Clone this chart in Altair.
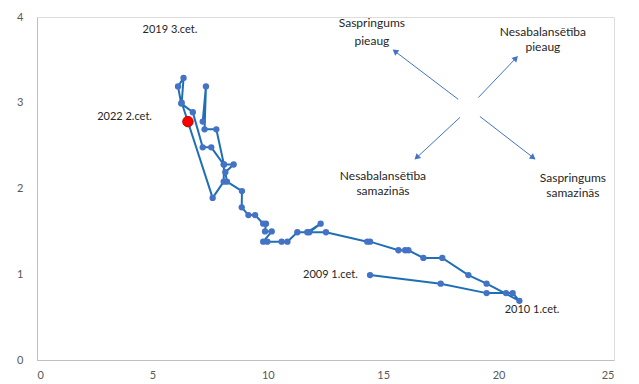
import altair as alt
import pandas as pd

# Unemployment rate (x) and vacancy rate (y), quarterly path
unemp = [14.43, 17.49, 19.48, 20.32, 20.61, 20.90, 19.48, 18.69, 17.56, 16.74,
         16.09, 15.95, 15.66, 14.43, 14.31, 12.52, 11.80, 12.29, 11.71, 11.28,
         10.85, 10.60, 9.98, 9.80, 10.17, 9.88, 9.92, 9.80, 9.45, 9.16,
         8.87, 8.88, 8.23, 8.16, 8.52, 8.09, 7.55, 7.18, 6.75, 6.25,
         6.11, 6.35, 6.27, 7.61, 8.09, 8.10, 7.77, 7.26, 7.32, 7.18]
vacancy = [0.99, 0.89, 0.78, 0.78, 0.78, 0.69, 0.89, 0.99, 1.19, 1.19,
           1.28, 1.28, 1.28, 1.38, 1.38, 1.49, 1.49, 1.59, 1.49, 1.49,
           1.38, 1.38, 1.38, 1.38, 1.50, 1.50, 1.59, 1.59, 1.69, 1.69,
           1.78, 1.97, 2.08, 2.19, 2.28, 2.28, 2.48, 2.48, 2.89, 2.99,
           3.19, 3.29, 3.00, 1.89, 2.08, 2.28, 2.69, 2.69, 3.19, 2.78]

last_u = [6.54]
last_v = [2.78]

# Point labels (centered)
labc_text = ["2019 3.cet.", "2010 1.cet."]
labc_x = [5.76, 21.45]
labc_y = [3.85, 0.58]
# Point labels (right-aligned)
labr_text = ["2022 2.cet.", "2009 1.cet."]
labr_x = [4.98, 13.9]
labr_y = [2.83, 0.99]

# Quadrant annotations
q_text = ["Saspringums", "pieaug", "Nesabalansētība", "pieaug",
          "Nesabalansētība", "samazinās", "Saspringums", "samazinās"]
q_x = [14.51, 14.51, 21.92, 21.92, 14.99, 14.99, 23.22, 23.22]
q_y = [3.93, 3.72, 3.825, 3.65, 2.146, 1.97, 2.12, 1.95]

# Direction arrows
arr_x1 = [18.25, 19.12, 18.33, 19.19]
arr_y1 = [3.04, 3.06, 2.83, 2.84]
arr_x2 = [15.51, 20.75, 16.45, 21.50]
arr_y2 = [3.60, 3.52, 2.36, 2.36]
arr_ang = [307, 44, 227, 127]

df = pd.DataFrame({"i": list(range(len(unemp))), "u": unemp, "v": vacancy})
df_last = pd.DataFrame({"u": last_u, "v": last_v})
df_labc = pd.DataFrame({"t": labc_text, "u": labc_x, "v": labc_y})
df_labr = pd.DataFrame({"t": labr_text, "u": labr_x, "v": labr_y})
df_q = pd.DataFrame({"t": q_text, "u": q_x, "v": q_y})
df_arr = pd.DataFrame({"u": arr_x1, "v": arr_y1, "u2": arr_x2, "v2": arr_y2, "ang": arr_ang})

FONT = "Lato"
xs = alt.Scale(domain=[0, 25], nice=False)
ys = alt.Scale(domain=[0, 4], nice=False)
xax = alt.Axis(values=[0, 5, 10, 15, 20, 25], grid=False, ticks=False, domainColor="#bfbfbf",
               labelColor="#595959", labelFontSize=11, labelPadding=9, labelFont=FONT, title=None,
               format="d")
yax = alt.Axis(values=[0, 1, 2, 3, 4], grid=False, ticks=False, domainColor="#bfbfbf",
               labelColor="#595959", labelFontSize=11, labelPadding=14, labelFont=FONT, title=None,
               format="d")

X = alt.X("u:Q", scale=xs, axis=xax)
Y = alt.Y("v:Q", scale=ys, axis=yax)

line = alt.Chart(df).mark_line(color="#1f6fb4", strokeWidth=2).encode(x=X, y=Y, order="i:Q")
pts = alt.Chart(df).mark_circle(size=40, color="#4472c4", opacity=1).encode(x=X, y=Y)
red = alt.Chart(df_last).mark_circle(size=110, color="#ff0000", opacity=1,
                                     stroke="#c00000", strokeWidth=1).encode(x=X, y=Y)

labc = alt.Chart(df_labc).mark_text(font=FONT, fontSize=11, color="#262626", align="center").encode(
    x=X, y=Y, text="t:N")
labr = alt.Chart(df_labr).mark_text(font=FONT, fontSize=11, color="#262626", align="right").encode(
    x=X, y=Y, text="t:N")
quad = alt.Chart(df_q).mark_text(font=FONT, fontSize=12, color="#262626").encode(x=X, y=Y, text="t:N")

arrows = alt.Chart(df_arr).mark_rule(color="#4472c4", strokeWidth=1).encode(
    x=X, y=Y, x2="u2:Q", y2="v2:Q")
heads = alt.Chart(df_arr).mark_point(shape="triangle-up", filled=True, size=45,
                                     color="#4472c4", opacity=1).encode(
    x=alt.X("u2:Q", scale=xs), y=alt.Y("v2:Q", scale=ys), angle=alt.Angle("ang:Q", scale=None))

chart = alt.layer(arrows, heads, line, pts, red, labc, labr, quad).properties(
    width=577, height=343,
    autosize=alt.AutoSizeParams(type="none"),
    padding={"left": 37, "top": 17, "right": 25, "bottom": 24},
).configure_view(stroke=None).configure(background="white")

chart.save("out.html", embed_options={"renderer": "svg", "actions": False})
